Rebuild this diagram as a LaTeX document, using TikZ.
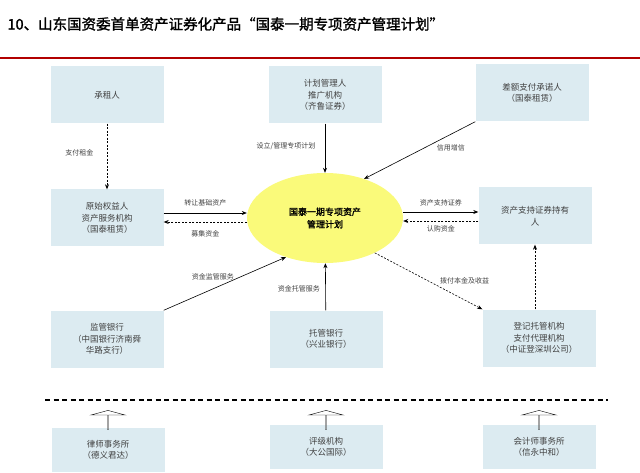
\documentclass[tikz,border=0pt]{standalone}
\usepackage{fontspec}
\setmainfont{Noto Sans CJK SC}
\newfontfamily\cjkb{Noto Sans CJK SC}[FakeBold=1.5]
\usetikzlibrary{arrows.meta,shapes.arrows,shapes.geometric}
\definecolor{boxc}{HTML}{DCEBF1}
\definecolor{ellc}{HTML}{FAFA7A}
\tikzset{
 bx/.style={fill=boxc,draw=none,minimum width=113pt,minimum height=57pt,align=center,font=\fontsize{8.5}{11.5}\selectfont,text=black!75},
 lb/.style={font=\fontsize{7}{8}\selectfont,text=black!75},
 ar/.style={-{Stealth[length=5pt,width=4pt]},line width=0.6pt},
 da/.style={ar,dashed,dash pattern=on 2pt off 1.5pt},
}
\begin{document}
\begin{tikzpicture}[x=1pt,y=-1pt]
\useasboundingbox (0,0) rectangle (640,473);
\node[anchor=west,font=\cjkb\fontsize{14.5}{16}\selectfont] (title) at (4,24) {10、山东国资委首单资产证券化产品“国泰一期专项资产管理计划”};
\draw[red!70!black,line width=1.2pt] (0,58) -- (640,58);
\node[bx] (czr) at (107,95) {承租人};
\node[bx] (jh) at (325,95) {计划管理人\\推广机构\\（齐鲁证券）};
\node[bx] (ce) at (532,93) {差额支付承诺人\\（国泰租赁）};
\node[bx] (ys) at (107,218) {原始权益人\\资产服务机构\\（国泰租赁）};
\node[bx] (cy) at (535,216) {资产支持证券持有\\人};
\node[ellipse,fill=ellc,minimum width=156pt,minimum height=90pt,align=center,font=\cjkb\fontsize{9}{12.5}\selectfont] (pl) at (325,218) {国泰一期专项资产\\管理计划};
\node[bx] (jg) at (107,339) {监管银行\\（中国银行济南舜\\华路支行）};
\node[bx] (tg) at (326,339) {托管银行\\（兴业银行）};
\node[bx] (dj) at (539,338) {登记托管机构\\支付代理机构\\（中证登深圳公司）};
\draw[line width=1.6pt,dash pattern=on 5pt off 3.5pt] (45,400) coordinate (l1) -- (608,400) coordinate (l2);
\node[bx,minimum height=44pt] (ls) at (108,450) {律师事务所\\（德义君达）};
\node[bx,minimum height=44pt] (pj) at (326,447) {评级机构\\（大公国际）};
\node[bx,minimum height=44pt] (kj) at (539,447) {会计师事务所\\（信永中和）};
\foreach \n/\x in {ls/108,pj/326,kj/539}{
 \node[single arrow,draw,fill=white,rotate=90,minimum height=19pt,minimum width=34pt,single arrow head extend=7pt,single arrow tip angle=150,inner sep=0pt] (h\n) at (\x,420) {};}
\draw[da] (czr) -- (ys) node[lb,pos=0.45,left=10pt] {支付租金};
\draw[ar] (jh) -- (pl) node[lb,pos=0.45,left=6pt] {设立/管理专项计划};
\draw[ar] (ce.south west) -- (pl.45) node[lb,pos=0.45,right=8pt] {信用增信};
\draw[ar] (ys.east|-0,213) -- (pl.west|-0,213) node[lb,midway,above=3pt] {转让基础资产};
\draw[da] (pl.west|-0,222) -- (ys.east|-0,222) node[lb,midway,below=5pt] {募集资金};
\draw[ar] (pl.east|-0,212) -- (cy.west|-0,212) node[lb,midway,above=2pt] {资产支持证券};
\draw[da] (cy.west|-0,221) -- (pl.east|-0,221) node[lb,midway,below=1pt] {认购资金};
\draw[ar] (jg.north east) -- (pl.225) node[lb,pos=0.5,left=12pt,above] {资金监管服务};
\draw[ar] (tg) -- (pl) node[lb,pos=0.45,left=2pt] {资金托管服务};
\draw[da] (pl.-35) -- (dj.north west) node[lb,pos=0.5,right=8pt] {拨付本金及收益};
\draw[da] (dj.north-|cy.south) -- (cy.south);
\end{tikzpicture}
\end{document}
